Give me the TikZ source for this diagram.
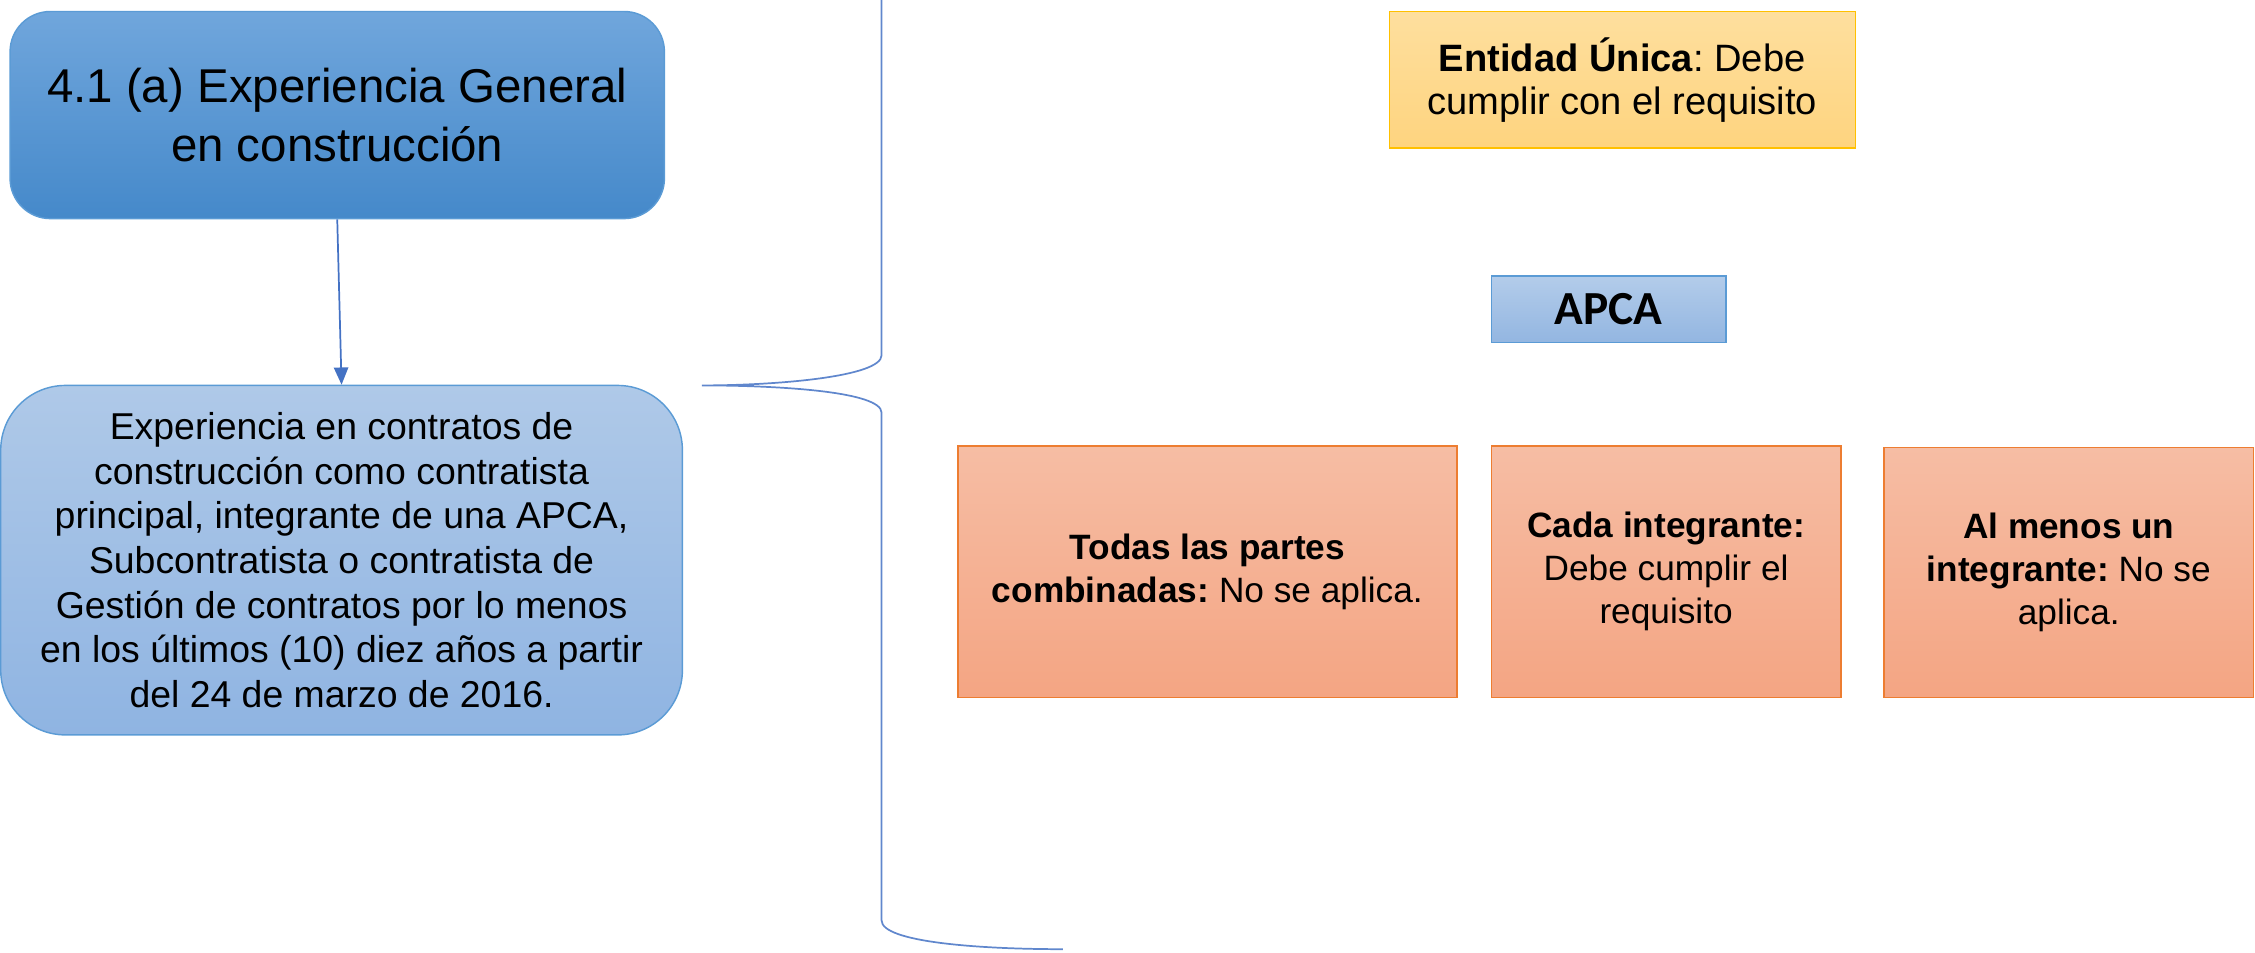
\documentclass[tikz,border=0pt]{standalone}
\usepackage{fontspec}
\setmainfont{Liberation Sans}
\newfontfamily\calibri{Carlito}
\usetikzlibrary{arrows.meta}
\frenchspacing
\definecolor{linkblue}{HTML}{4472C4}
\definecolor{bordblue}{HTML}{5B9BD5}
\definecolor{bordorange}{HTML}{ED7D31}
\definecolor{bordyellow}{HTML}{FFC000}
\definecolor{tA}{HTML}{70A6DC}
\definecolor{tB}{HTML}{4589CA}
\definecolor{dA}{HTML}{AFC9E8}
\definecolor{dB}{HTML}{8FB4E2}
\definecolor{yA}{HTML}{FEDF9E}
\definecolor{yB}{HTML}{FED47F}
\definecolor{aA}{HTML}{B3CCEA}
\definecolor{aB}{HTML}{93B6E1}
\definecolor{oA}{HTML}{F6BDA4}
\definecolor{oB}{HTML}{F4A583}
\tikzset{
  box/.style={draw, line width=1pt, inner sep=0pt, align=center, text=black},
  titlebox/.style={box, draw=bordblue, rounded corners=28pt, top color=tA, bottom color=tB,
    font=\fontsize{33}{40.5}\selectfont},
  descbox/.style={box, draw=bordblue, rounded corners=45pt, top color=dA, bottom color=dB,
    font=\fontsize{26}{31.1}\selectfont},
  yellowbox/.style={box, draw=bordyellow, top color=yA, bottom color=yB,
    font=\fontsize{26.5}{30}\selectfont},
  apcabox/.style={box, draw=bordblue, top color=aA, bottom color=aB,
    font=\calibri\bfseries\fontsize{33}{36}\selectfont},
  orangebox/.style={box, draw=bordorange, top color=oA, bottom color=oB,
    font=\fontsize{24.5}{30}\selectfont},
  link/.style={draw=linkblue, line width=1.2pt, -{Triangle[length=12pt,width=10pt]}},
  bracestyle/.style={draw=linkblue!85!white, line width=1.2pt},
}
\begin{document}
\begin{tikzpicture}[x=1pt,y=-1pt]
\useasboundingbox (0,0) rectangle (1568,662);

% Left column
\node[titlebox, minimum width=455pt, minimum height=144pt] (title) at (234.5,80)
  {4.1 (a) Experiencia General\\ en construcción};
\node[descbox, minimum width=474pt, minimum height=243pt] (desc) at (237.5,389.5)
  {Experiencia en contratos de\\ construcción como contratista\\ principal, integrante de una APCA,\\ Subcontratista o contratista de\\ Gestión de contratos por lo menos\\ en los últimos (10) diez años a partir\\ del 24 de marzo de 2016.};
\draw[link] (title.south) -- (desc.north);

% Brace
\coordinate (btop) at (613,-5);
\coordinate (bup) at (613,247);
\coordinate (tip) at (488,268);
\coordinate (blow) at (613,287);
\coordinate (bbot) at (613,640);
\coordinate (bend) at (739,660);
\draw[bracestyle] (btop) -- (bup)
  .. controls (613,262) and (540,268) .. (tip)
  .. controls (540,268) and (613,272) .. (blow)
  -- (bbot)
  .. controls (613,655) and (680,660) .. (bend);

% Right column
\node[yellowbox, minimum width=324pt, minimum height=95pt] (unica) at (1128,55.5)
  {\textbf{Entidad Única}: Debe\\ cumplir con el requisito};
\node[apcabox, minimum width=163pt, minimum height=46pt] (apca) at (1118.5,215)
  {APCA};
\node[orangebox, minimum width=347pt, minimum height=175pt] (todas) at (839.5,397.5)
  {\textbf{Todas las partes}\\ \textbf{combinadas:} No se aplica.};
\node[orangebox, minimum width=243pt, minimum height=175pt] (cada) at (1158.5,397.5)
  {\textbf{Cada integrante:}\\ Debe cumplir el\\ requisito};
\node[orangebox, minimum width=257pt, minimum height=174pt] (almenos) at (1438.5,398)
  {\textbf{Al menos un}\\ \textbf{integrante:} No se\\ aplica.};
\end{tikzpicture}
\end{document}
